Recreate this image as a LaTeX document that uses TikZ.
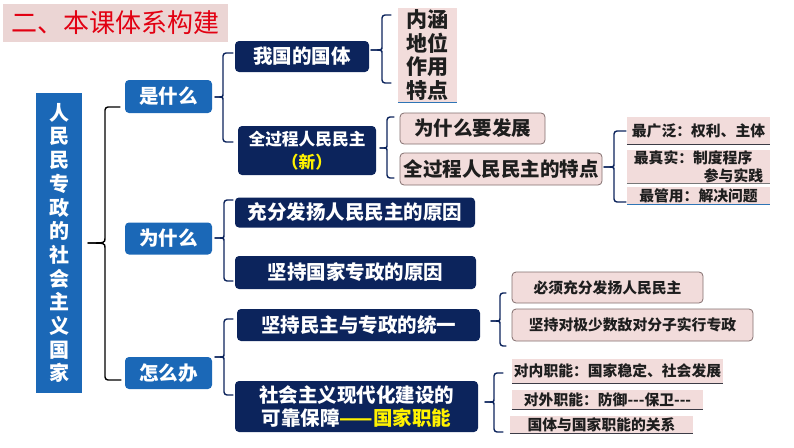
\documentclass[tikz,border=0pt]{standalone}
\usepackage{fontspec}
\setmainfont{Noto Sans CJK SC}
\newfontfamily\cjk{Noto Sans CJK SC}
\usetikzlibrary{calc}
\definecolor{blueone}{RGB}{27,104,183}
\definecolor{navy}{RGB}{12,36,92}
\definecolor{pinkbg}{RGB}{242,220,219}
\definecolor{titlebg}{RGB}{235,213,212}
\definecolor{titlered}{RGB}{226,0,18}
\definecolor{pinkedge}{RGB}{130,110,110}
\definecolor{txt}{RGB}{30,30,30}
\definecolor{yel}{RGB}{255,242,0}
\definecolor{ulblue}{RGB}{46,117,182}
\definecolor{uldark}{RGB}{60,60,70}
\definecolor{ulgray}{RGB}{120,120,120}
% brace: #2 tip x, #3 vertical x, #4 top y, #5 bottom y, #6 tip y, #7 hook end x
\newcommand\cbrace[7][]{%
  \draw[brc,#1] (#2,#6) .. controls (#3,#6) and (#3,#6) .. (#3,{#6-6}) -- (#3,#4) -- (#7,#4);
  \draw[brc,#1] (#2,#6) .. controls (#3,#6) and (#3,#6) .. (#3,{#6+6}) -- (#3,#5) -- (#7,#5);}
\begin{document}
\begin{tikzpicture}[x=1pt,y=-1pt,
  lvone/.style={fill=blueone, rounded corners=4pt, text=white, inner sep=0pt,
    font=\cjk\bfseries\fontsize{19.5}{22}\selectfont},
  lvtwo/.style={fill=navy, rounded corners=4pt, text=white, inner sep=0pt, align=center,
    font=\cjk\bfseries\fontsize{19.5}{23}\selectfont},
  pbox/.style={fill=pinkbg, draw=pinkedge, line width=0.8pt, rounded corners=4pt, text=txt,
    inner sep=0pt, font=\cjk\bfseries\fontsize{19.5}{22}\selectfont},
  sbox/.style={pbox, font=\cjk\bfseries\fontsize{14.8}{17}\selectfont},
  pitem/.style={fill=pinkbg, text=txt, inner sep=0pt, align=left,
    font=\cjk\bfseries\fontsize{14.8}{18}\selectfont},
  brc/.style={draw=navy, line width=1.4pt, rounded corners=3pt, line cap=round},
  ul/.style={line width=1.2pt},
]
\useasboundingbox (0,0) rectangle (794,447);

% title
\node[fill=titlebg, minimum width=225, minimum height=38, inner sep=0pt, text=titlered,
  font=\cjk\fontsize{26}{30}\selectfont] (title) at (115.5,23) {二、本课体系构建};

% root
\node[fill=blueone, minimum width=46, minimum height=300, inner sep=0pt, text=white, align=center,
  font=\cjk\bfseries\fontsize{20}{23.7}\selectfont] (root) at (59,243)
  {人\\民\\民\\专\\政\\的\\社\\会\\主\\义\\国\\家};

% level one
\node[lvone, minimum width=87, minimum height=33] (q1) at (168.5,96.5) {是什么};
\node[lvone, minimum width=87, minimum height=32] (q2) at (168.5,238.5) {为什么};
\node[lvone, minimum width=87, minimum height=32] (q3) at (168.5,373) {怎么办};

% level two
\node[lvtwo, minimum width=134, minimum height=31] (n1) at (302,56.5) {我国的国体};
\node[lvtwo, minimum width=138, minimum height=49, font=\cjk\bfseries\fontsize{16.7}{23}\selectfont]
  (n2) at (307,150.5) {全过程人民民主\\\textcolor{yel}{（新）}};
\node[lvtwo, minimum width=240, minimum height=30] (n3) at (355,212.5) {充分发扬人民民主的原因};
\node[lvtwo, minimum width=241, minimum height=33] (n4) at (355.5,272.5) {坚持国家专政的原因};
\node[lvtwo, minimum width=243, minimum height=32] (n5) at (358.5,325) {坚持民主与专政的统一};
\node[lvtwo, minimum width=243, minimum height=51] (n6) at (356.5,406.5)
  {社会主义现代化建设的\\可靠保障\textcolor{yel}{——国家职能}};

% column
\node[fill=pinkbg, minimum width=59, minimum height=94, inner sep=0pt, text=txt, align=center,
  font=\cjk\bfseries\fontsize{21}{23.5}\selectfont] (col) at (427.5,55) {内涵\\地位\\作用\\特点};
\draw[ul, draw=ulblue] (col.south west) -- (col.south east);

% pink boxes
\node[pbox, minimum width=145, minimum height=31] (p1) at (472.5,128.5) {为什么要发展};
\node[pbox, minimum width=202, minimum height=32] (p2) at (501,169) {全过程人民民主的特点};
\node[sbox, minimum width=191, minimum height=31] (m1) at (607.5,287.5) {必须充分发扬人民民主};
\node[sbox, minimum width=241, minimum height=32] (m2) at (632.5,325) {坚持对极少数敌对分子实行专政};

% right items
\node[pitem, minimum width=143, minimum height=27] (r1) at (698.5,130.5) {最广泛：权利、主体};
\node[pitem, minimum width=143, minimum height=33] (r2) at (698.5,166.5) {最真实：制度程序\\\hspace*{70pt}参与实践};
\node[pitem, minimum width=143, minimum height=18] (r3) at (698.5,195.5) {最管用：解决问题};
\draw[ul, draw=uldark] (r1.south west) -- (r1.south east);
\draw[ul, draw=ulgray] (r2.south west) -- (r2.south east);
\draw[ul, draw=ulblue] (r3.south west) -- (r3.south east);

\node[pitem, minimum width=211, minimum height=24] (f1) at (617.5,371) {对内职能：国家稳定、社会发展};
\node[pitem, minimum width=191, minimum height=19] (f2) at (607.5,399.5) {对外职能：防御-\kern0pt-\kern0pt-保卫-\kern0pt-\kern0pt-};
\node[pitem, minimum width=183, minimum height=17] (f3) at (601.5,424.5) {国体与国家职能的关系};
\draw[ul, draw=uldark] (f1.south west) -- (f1.south east);
\draw[ul, draw=uldark] (f2.south west) -- (f2.south east);
\draw[ul, draw=uldark] (f3.south west) -- (f3.south east);

% braces
\draw[brc, draw=black] (88,243) .. controls (105,243) and (105,243) .. (105,235) -- (105,107) -- (120,107);
\draw[brc, draw=black] (88,243) .. controls (105,243) and (105,243) .. (105,251) -- (105,380) -- (121,380);
\cbrace{215}{223}{53}{142}{97}{233}
\cbrace{215}{224}{200}{281}{238}{233}
\cbrace{215}{224}{319}{395}{357}{233}
\cbrace{371}{382}{15}{83}{50}{391}
\cbrace{380}{387}{117}{178}{148}{394}
\cbrace{604}{614}{131}{202}{167}{626}
\cbrace{491}{500}{293}{346}{321}{506}
\cbrace{485}{494}{373}{432}{402}{503}
\end{tikzpicture}
\end{document}
